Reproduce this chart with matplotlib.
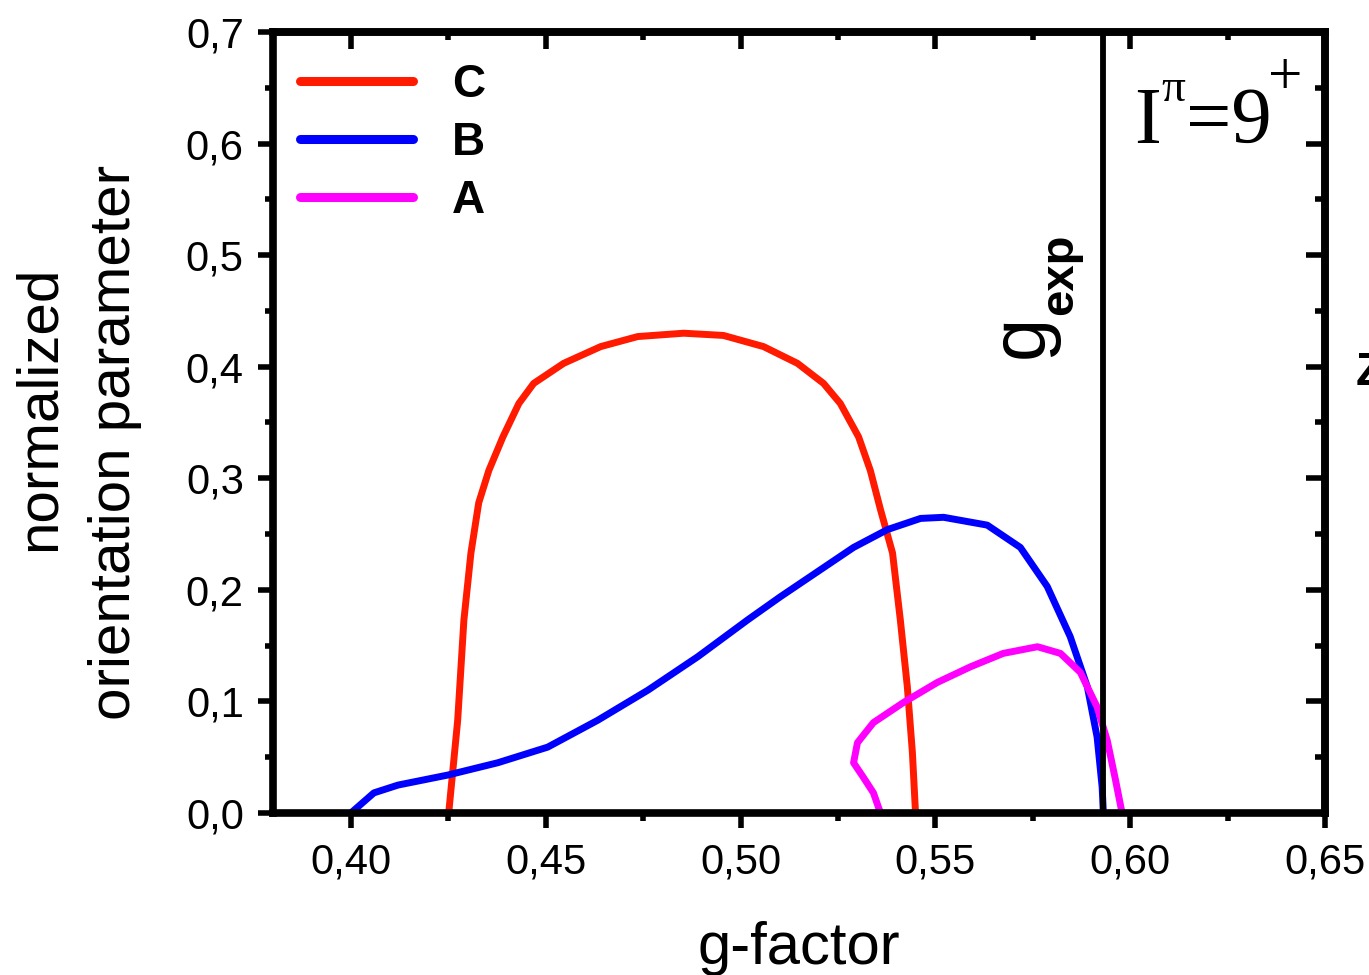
import matplotlib
matplotlib.use('Agg')
import matplotlib.pyplot as plt
from matplotlib.ticker import MultipleLocator, FuncFormatter

plt.rcParams['font.family'] = ['Liberation Sans', 'DejaVu Sans']

# curve C (red)
c_x = [0.4251, 0.4274, 0.4290, 0.4308, 0.4328, 0.4354, 0.4390, 0.4431, 0.4469,
       0.4546, 0.4641, 0.4736, 0.4854, 0.4956, 0.5059, 0.5146, 0.5213, 0.5256,
       0.5303, 0.5333, 0.5359, 0.5390, 0.5410, 0.5428, 0.5441, 0.5449]
c_y = [0.0, 0.083, 0.173, 0.233, 0.278, 0.307, 0.337, 0.367, 0.385,
       0.403, 0.418, 0.427, 0.430, 0.428, 0.418, 0.403, 0.385, 0.367,
       0.337, 0.307, 0.272, 0.233, 0.173, 0.113, 0.054, 0.0]

# curve B (blue)
b_x = [0.4000, 0.4059, 0.4121, 0.4249, 0.4377, 0.4505, 0.4633, 0.4762, 0.4890,
       0.5018, 0.5103, 0.5205, 0.5290, 0.5377, 0.5462, 0.5521, 0.5633, 0.5718,
       0.5787, 0.5846, 0.5890, 0.5915, 0.5928, 0.5931]
b_y = [0.0, 0.018, 0.025, 0.034, 0.045, 0.059, 0.083, 0.110, 0.140,
       0.173, 0.194, 0.218, 0.238, 0.254, 0.264, 0.265, 0.258, 0.238,
       0.203, 0.158, 0.113, 0.068, 0.023, 0.0]

# curve A (magenta)
a_x = [0.5359, 0.5341, 0.5315, 0.5290, 0.5300, 0.5341, 0.5418, 0.5505, 0.5590,
       0.5674, 0.5762, 0.5821, 0.5872, 0.5915, 0.5941, 0.5962, 0.5979]
a_y = [0.0, 0.018, 0.032, 0.045, 0.063, 0.081, 0.099, 0.117, 0.131,
       0.143, 0.149, 0.143, 0.126, 0.095, 0.065, 0.030, 0.0]

g_exp = 0.5931

fig = plt.figure(figsize=(13.69, 9.75), dpi=100)
ax = fig.add_axes([0.1994, 0.1662, 0.7685, 0.801])

kw = dict(lw=5, solid_joinstyle='round', solid_capstyle='butt')
lc, = ax.plot(c_x, c_y, color='#ff1a00', label='C', **kw)
lb, = ax.plot(b_x, b_y, color='#0000ff', label='B', **kw)
la, = ax.plot(a_x, a_y, color='#ff00ff', label='A', **kw)
ax.axvline(g_exp, color='black', lw=4.2)

ax.set_xlim(0.38, 0.65)
ax.set_ylim(0.0, 0.7)

ax.xaxis.set_major_locator(MultipleLocator(0.05))
ax.xaxis.set_minor_locator(MultipleLocator(0.025))
ax.yaxis.set_major_locator(MultipleLocator(0.1))
ax.yaxis.set_minor_locator(MultipleLocator(0.05))
ax.xaxis.set_major_formatter(FuncFormatter(lambda v, p: ('%.2f' % v).replace('.', ',')))
ax.yaxis.set_major_formatter(FuncFormatter(lambda v, p: ('%.1f' % v).replace('.', ',')))

for s in ax.spines.values():
    s.set_linewidth(5.5)

ax.tick_params(axis='both', which='major', labelsize=30, width=4, length=11, pad=10)
ax.tick_params(axis='both', which='minor', width=4, length=6)
ax.tick_params(axis='x', which='both', direction='out', top=False)
ax.tick_params(axis='y', which='both', direction='out', right=False)

# inward ticks on top and right
sx = ax.secondary_xaxis('top')
sx.xaxis.set_major_locator(MultipleLocator(0.05))
sx.xaxis.set_minor_locator(MultipleLocator(0.025))
sx.tick_params(which='both', direction='in', labeltop=False, width=4)
sx.tick_params(which='major', length=12)
sx.tick_params(which='minor', length=6)
sx.spines['top'].set_linewidth(5.5)
sy = ax.secondary_yaxis('right')
sy.yaxis.set_major_locator(MultipleLocator(0.1))
sy.yaxis.set_minor_locator(MultipleLocator(0.05))
sy.tick_params(which='both', direction='in', labelright=False, width=4)
sy.tick_params(which='major', length=14)
sy.tick_params(which='minor', length=7)
sy.spines['right'].set_linewidth(5.5)

ax.set_xlabel('g-factor', fontsize=43, labelpad=28)
fig.text(40 / 1369, 1 - 408 / 975, 'normalized', fontsize=42, rotation=90,
         ha='center', va='center')
fig.text(115 / 1369, 1 - 442 / 975, 'orientation parameter', fontsize=42,
         rotation=90, ha='center', va='center')

leg = ax.legend(handles=[lc, lb, la], loc='upper left', frameon=False,
                bbox_to_anchor=(0.0257, 0.96), borderaxespad=0, borderpad=0,
                handlelength=2.47, handletextpad=0.85, labelspacing=0.3,
                prop={'weight': 'bold', 'size': 33})
for h in leg.get_lines():
    h.set_linewidth(6.5)
    h.set_solid_capstyle('round')

# g_exp label
fig.text(1043 / 1369, 1 - 358 / 975, 'g', fontsize=56, rotation=90,
         rotation_mode='anchor', ha='left', va='baseline')
fig.text(1072 / 1369, 1 - 315 / 975, 'exp', fontsize=34, fontweight='bold',
         rotation=90, rotation_mode='anchor', ha='left', va='baseline')

# spin-parity label: I^pi = 9^+
serif = dict(family='Liberation Serif', ha='left', va='baseline')
fig.text(1134 / 1369, 1 - 143 / 975, 'I', fontsize=58, **serif)
fig.text(1161 / 1369, 1 - 101 / 975, 'π', fontsize=34, **serif)
fig.text(1186 / 1369, 1 - 143 / 975, '=9', fontsize=58, **serif)
fig.text(1268 / 1369, 1 - 94 / 975, '+', fontsize=44, **serif)

# clipped letter at the right edge
fig.text(1356 / 1369, 1 - 373 / 975, 'Z', fontsize=33, fontweight='bold',
         ha='left', va='center')

fig.savefig('out.png', dpi=100)
